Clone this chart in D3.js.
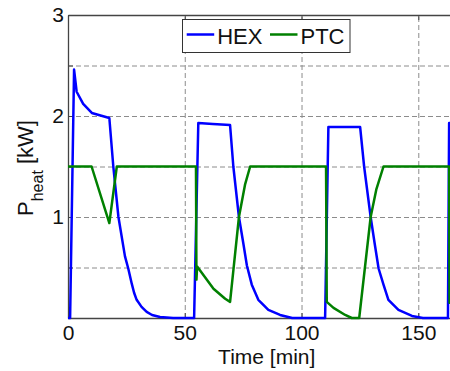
<!DOCTYPE html>
<html>
<head>
<meta charset="utf-8">
<script src="https://cdn.jsdelivr.net/npm/d3@7"></script>
<style>
  body { margin: 0; background: #fff; }
  svg { display: block; font-family: "Liberation Sans", Arial, sans-serif; }
</style>
</head>
<body>
<div id="chart"></div>
<script>
// values
const hexTime  = [0, 0.9, 2.6, 3.7, 6.5, 10.2, 17.7, 19.4, 21.6, 24.4, 25.8, 27.3, 28.3, 29.4, 31.5, 33.7, 36, 39.4, 45,
                  54.0, 55.8, 62, 69.4, 70.8, 73.2, 75, 76.6, 78.7, 81.5, 85.8, 90.8, 96,
                  110.1, 111.5, 118, 125.1, 126.8, 129.6, 131.3, 133, 135.1, 137.2, 141.5, 147.3, 152, 162.7,
                  163.2, 170];
const hexPower = [0, 0, 2.46, 2.24, 2.12, 2.03, 1.98, 1.50, 1.00, 0.61, 0.49, 0.34, 0.25, 0.18, 0.11, 0.06, 0.03, 0.01, 0,
                  0, 1.93, 1.92, 1.91, 1.50, 1.00, 0.75, 0.52, 0.33, 0.18, 0.08, 0.03, 0,
                  0, 1.89, 1.89, 1.89, 1.50, 1.00, 0.74, 0.49, 0.33, 0.18, 0.08, 0.02, 0, 0,
                  1.93, 1.93];
const ptcTime  = [0, 10.1, 17.7, 20.9, 54.8, 55.0, 55.3, 62.3, 67.3, 69.4, 73.2, 75.8, 78.0, 110.5, 110.8, 113.7, 118.7, 121.5, 124.7,
                  129.6, 132.0, 135.1, 163.2, 163.4, 170];
const ptcPower = [1.5, 1.5, 0.94, 1.5, 1.5, 0.38, 0.51, 0.29, 0.19, 0.16, 1.0, 1.32, 1.5, 1.5, 0.16, 0.10, 0.03, 0, 0,
                  1.0, 1.27, 1.5, 1.5, 0.15, 0.15];

const seriesNames  = ["HEX", "PTC"];
const seriesColors = ["#0000ff", "#008000"];
const xTicks = [0, 50, 100, 150];
const yTicks = [0, 0.5, 1, 1.5, 2, 2.5, 3];
const yTickLabels = ["", "", "1", "", "2", "", "3"];

const W = 450, H = 371;
const mLeft = 68, mTop = 15, mRight = 465, mBottom = 318;

const svg = d3.select("#chart").append("svg")
  .attr("width", W)
  .attr("height", H);

const x = d3.scaleLinear().domain([0, 170]).range([mLeft, mRight]);
const y = d3.scaleLinear().domain([0, 3]).range([mBottom, mTop]);

// grid
const gx = svg.append("g")
  .attr("transform", "translate(0," + mBottom + ")")
  .call(d3.axisBottom(x).tickValues(xTicks).tickSize(-(mBottom - mTop)).tickFormat(""));
const gy = svg.append("g")
  .attr("transform", "translate(" + mLeft + ",0)")
  .call(d3.axisLeft(y).tickValues(yTicks).tickSize(-(mRight - mLeft)).tickFormat(""));
[gx, gy].forEach(g => {
  g.select(".domain").remove();
  g.selectAll("line").attr("stroke", "#8c8c8c").attr("stroke-dasharray", "5,3");
});

// axes, ticks pointing inward
const axB = svg.append("g")
  .attr("transform", "translate(0," + mBottom + ")")
  .call(d3.axisBottom(x).tickValues(xTicks).tickSizeInner(-5).tickSizeOuter(0).tickPadding(7));
const axT = svg.append("g")
  .attr("transform", "translate(0," + mTop + ")")
  .call(d3.axisTop(x).tickValues(xTicks).tickSizeInner(-5).tickSizeOuter(0).tickFormat(""));
const axL = svg.append("g")
  .attr("transform", "translate(" + mLeft + ",0)")
  .call(d3.axisLeft(y).tickValues(yTicks).tickSizeInner(-5).tickSizeOuter(0).tickPadding(4)
    .tickFormat((d, i) => yTickLabels[i]));
[axB, axT, axL].forEach(g => {
  g.select(".domain").attr("stroke", "#444").attr("stroke-width", 1.3);
  g.selectAll("line").attr("stroke", "#444");
  g.selectAll("text").attr("fill", "#111").style("font-size", "21px");
});

// curves
const line = d3.line().x(d => x(d[0])).y(d => y(d[1]));
const series = [d3.zip(hexTime, hexPower), d3.zip(ptcTime, ptcPower)];
svg.append("g").selectAll("path")
  .data(series)
  .enter()
  .append("path")
  .attr("d", line)
  .attr("fill", "none")
  .attr("stroke", (d, i) => seriesColors[i])
  .attr("stroke-width", 2.5)
  .attr("stroke-linejoin", "round");

// legend
const lg = svg.append("g");
lg.append("rect")
  .attr("x", 182.5).attr("y", 19.5).attr("width", 167.5).attr("height", 33)
  .attr("fill", "#fff").attr("stroke", "#333");
const item = lg.selectAll(".item")
  .data(seriesNames)
  .enter()
  .append("g")
  .attr("transform", (d, i) => "translate(" + (186.7 + i * 83.3) + ",0)");
item.append("line")
  .attr("x1", 0).attr("x2", 27.5).attr("y1", 34.5).attr("y2", 34.5)
  .attr("stroke", (d, i) => seriesColors[i]).attr("stroke-width", 2.5);
item.append("text")
  .attr("x", 30.5).attr("y", 43.5)
  .style("font-size", "22px").attr("fill", "#111")
  .text(d => d);

// axis labels
svg.append("text")
  .attr("x", 266.7).attr("y", 363.5)
  .attr("text-anchor", "middle")
  .style("font-size", "21px").attr("fill", "#111")
  .text("Time [min]");

const yl = svg.append("text")
  .attr("transform", "translate(33.3,168) rotate(-90)")
  .attr("text-anchor", "middle")
  .style("font-size", "22px").attr("fill", "#111");
yl.append("tspan").text("P");
yl.append("tspan").attr("dy", 10).style("font-size", "16px").text("heat");
yl.append("tspan").attr("dy", -10).text(" [kW]");
</script>
</body>
</html>
